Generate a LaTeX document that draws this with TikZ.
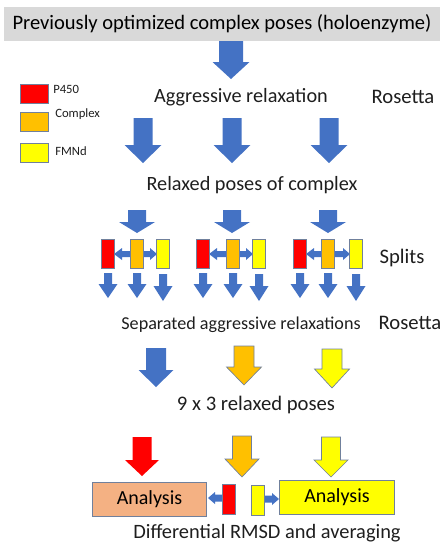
\documentclass[tikz,border=0pt]{standalone}
\usepackage{fontspec}
\setmainfont{Carlito}
\definecolor{ablue}{RGB}{68,114,196}
\definecolor{ared}{RGB}{255,0,0}
\definecolor{aorange}{RGB}{255,192,0}
\definecolor{ayellow}{RGB}{255,255,0}
\definecolor{asalmon}{RGB}{244,177,131}
\definecolor{aborder}{RGB}{112,128,156}
\definecolor{agray}{RGB}{217,217,217}
\definecolor{atext}{RGB}{30,30,30}
\newcommand\barrow[7]{%
 \path[#1] (#2-#6/2,#3) -- (#2+#6/2,#3) -- (#2+#6/2,#4) -- (#2+#7/2,#4) -- (#2,#5) -- (#2-#7/2,#4) -- (#2-#6/2,#4) -- cycle;}
\newcommand\harrow[7]{% style, xtail, xhead, xtip, y, shaftw, headw
 \path[#1] (#2,#5-#6/2) -- (#3,#5-#6/2) -- (#3,#5-#7/2) -- (#4,#5) -- (#3,#5+#7/2) -- (#3,#5+#6/2) -- (#2,#5+#6/2) -- cycle;}
\begin{document}
\begin{tikzpicture}[x=0.75pt,y=-0.75pt,
  bl/.style={fill=ablue},
  rd/.style={fill=ared},
  og/.style={fill=aorange,draw=aborder,line width=0.5pt},
  yw/.style={fill=ayellow,draw=aborder,line width=0.5pt},
  bar/.style={draw=aborder,line width=0.6pt,minimum width=10pt,minimum height=22pt,inner sep=0pt},
  lab/.style={text=atext,inner sep=0pt},
  leg/.style={draw=aborder,line width=0.6pt,minimum width=21pt,minimum height=14pt,inner sep=0pt},
  abox/.style={draw=aborder,line width=0.8pt,minimum width=86pt,minimum height=25pt,inner sep=0pt,font=\fontsize{15}{17}\selectfont}]
\useasboundingbox (0,0) rectangle (448,550);
% title
\node[fill=agray,minimum width=327pt,minimum height=25pt,inner sep=0pt] (title) at (222,24) {};
\node[lab,text=black,font=\fontsize{15.4}{18}\selectfont] (titletext) at (222,24) {Previously optimized complex poses (holoenzyme)};
\barrow{bl}{231}{41}{62}{79}{24}{37}
\node[lab,font=\fontsize{15.2}{18}\selectfont] (aggr) at (241,97) {Aggressive relaxation};
\node[lab,font=\fontsize{15.5}{18}\selectfont] (ros1) at (403,97) {Rosetta};
% legend
\node[leg,fill=ared] (lred) at (34,94) {};
\node[leg,fill=aorange] (lorange) at (34,122) {};
\node[leg,fill=ayellow] (lyellow) at (34,153) {};
\node[lab,anchor=west,font=\fontsize{9.5}{11}\selectfont] (tp450) at (53,89) {P450};
\node[lab,anchor=west,font=\fontsize{9.5}{11}\selectfont] (tcomplex) at (55,114) {Complex};
\node[lab,anchor=west,font=\fontsize{9.5}{11}\selectfont] (tfmnd) at (55,151) {FMNd};
% three blue arrows
\foreach \cx in {143,232,329}{\barrow{bl}{\cx}{118}{145}{163}{19}{37}}
\node[lab,font=\fontsize{15.2}{18}\selectfont] (relaxed) at (252,185) {Relaxed poses of complex};
% arrows into splits
\foreach \cx in {137,232,328}{\barrow{bl}{\cx}{210}{222}{233}{18}{36}}
% split groups
\foreach \r/\o/\y/\g in {108/137/163/a,203/233/259/b,300/328/356/c}{
  \harrow{bl}{\o}{\r+14}{\r+6}{254}{6}{12}
  \harrow{bl}{\o}{\y-13}{\y-6}{254}{6}{12}
  \node[bar,fill=ared] (red\g) at (\r,254) {};
  \node[bar,fill=aorange] (org\g) at (\o,254) {};
  \node[bar,fill=ayellow] (yel\g) at (\y,254) {};
  \barrow{bl}{\r}{273}{284}{298}{8}{19}
  \barrow{bl}{\o}{273}{284}{298}{8}{19}
  \barrow{bl}{\y}{274}{286}{301}{8}{19}
}
\node[lab,font=\fontsize{15.5}{18}\selectfont] (splits) at (402,258) {Splits};
\node[lab,font=\fontsize{13.6}{16}\selectfont] (sep) at (241,325) {Separated aggressive relaxations};
\node[lab,font=\fontsize{15.5}{18}\selectfont] (ros2) at (410,323) {Rosetta};
% colored arrows
\barrow{bl}{156}{348}{370}{387}{20}{35}
\barrow{og}{244}{346}{367}{385}{20}{35}
\barrow{yw}{332}{349}{369}{388}{20}{35}
\node[lab,font=\fontsize{15.5}{18}\selectfont] (nine) at (256,405) {9 x 3 relaxed poses};
\barrow{rd}{142}{437}{460}{476}{19}{34}
\barrow{og}{242}{436}{459}{477}{19}{34}
\barrow{yw}{331}{437}{460}{477}{19}{34}
% analysis
\harrow{bl}{224}{215}{208}{498}{7}{12}
\harrow{bl}{262}{272}{279}{499}{7}{12}
\node[abox,fill=asalmon] (anl) at (149.5,499.5) {Analysis};
\node[abox,fill=ayellow] (anr) at (337,497.5) {Analysis};
\node[bar,fill=ared,minimum height=23pt] (rbar) at (229,499.5) {};
\node[bar,fill=ayellow,minimum height=23pt] (ybar) at (258,500.5) {};
\node[lab,font=\fontsize{15.3}{18}\selectfont] (diff) at (267,533) {Differential RMSD and averaging};
\end{tikzpicture}
\end{document}
